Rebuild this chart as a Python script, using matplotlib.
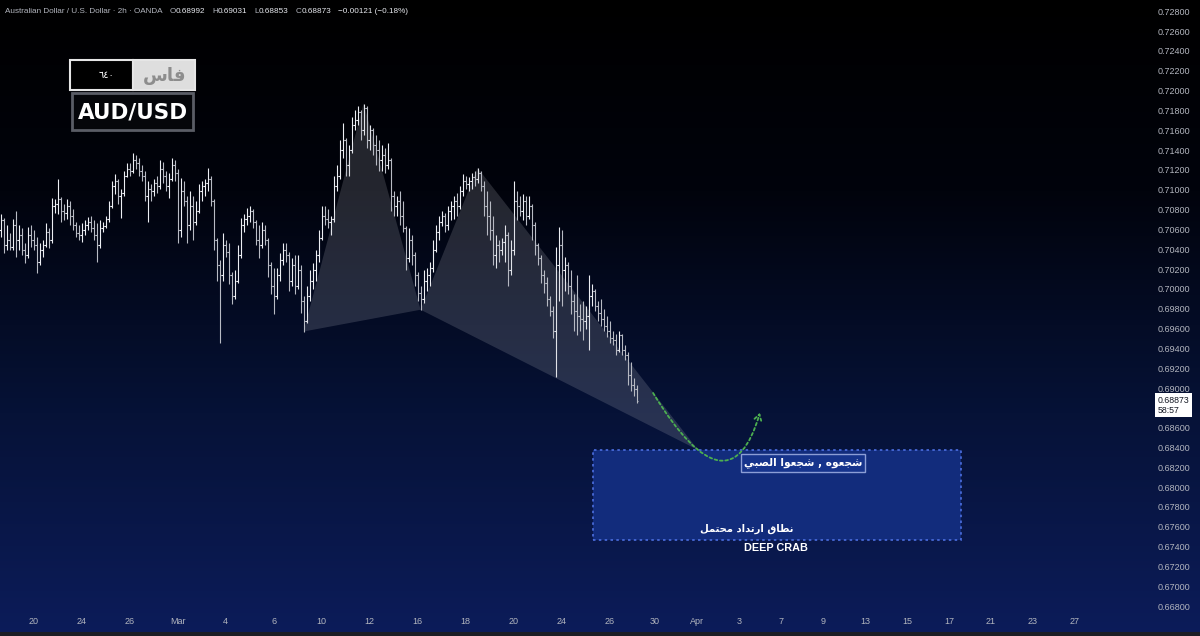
import numpy as np
import pandas as pd
import matplotlib
matplotlib.use('Agg')
import matplotlib.pyplot as plt
from matplotlib.collections import LineCollection
from matplotlib.colors import LinearSegmentedColormap
from matplotlib.patches import Rectangle, Polygon, FancyArrowPatch
from matplotlib.path import Path
from matplotlib import font_manager

# AUD/USD bars (thinned to 8 bars per trading day)
opens = [0.7059, 0.7069, 0.7044, 0.7049, 0.7042, 0.7064, 0.7049, 0.7054, 0.7039, 0.7034,
         0.7054, 0.7049, 0.7044, 0.7027, 0.7039, 0.7044, 0.7057, 0.7049, 0.7084, 0.7086,
         0.7091, 0.7079, 0.7077, 0.7084, 0.7074, 0.7064, 0.7056, 0.7054, 0.7059, 0.7064,
         0.7067, 0.7061, 0.7054, 0.7044, 0.7061, 0.7063, 0.7071, 0.7084, 0.7104, 0.7109,
         0.7094, 0.7097, 0.7114, 0.7121, 0.7119, 0.7130, 0.7127, 0.7119, 0.7114, 0.7094,
         0.7101, 0.7099, 0.7107, 0.7104, 0.7121, 0.7114, 0.7104, 0.7111, 0.7125, 0.7117,
         0.7059, 0.7099, 0.7089, 0.7064, 0.7084, 0.7067, 0.7079, 0.7099, 0.7104, 0.7107,
         0.7111, 0.7089, 0.7049, 0.7024, 0.7014, 0.7044, 0.7037, 0.7014, 0.6993, 0.7008,
         0.7034, 0.7064, 0.7071, 0.7074, 0.7079, 0.7067, 0.7049, 0.7044, 0.7059, 0.7049,
         0.7024, 0.7003, 0.6993, 0.7014, 0.7029, 0.7039, 0.7034, 0.7008, 0.7024, 0.7003,
         0.7019, 0.6988, 0.6968, 0.6993, 0.7008, 0.7019, 0.7034, 0.7051, 0.7074, 0.7071,
         0.7067, 0.7071, 0.7104, 0.7114, 0.7140, 0.7150, 0.7125, 0.7140, 0.7165, 0.7170,
         0.7178, 0.7160, 0.7182, 0.7150, 0.7160, 0.7145, 0.7140, 0.7130, 0.7135, 0.7125,
         0.7130, 0.7094, 0.7084, 0.7089, 0.7074, 0.7061, 0.7031, 0.7049, 0.7034, 0.7014,
         0.6996, 0.6990, 0.7008, 0.7014, 0.7021, 0.7039, 0.7057, 0.7067, 0.7074, 0.7064,
         0.7079, 0.7084, 0.7089, 0.7084, 0.7099, 0.7109, 0.7106, 0.7109, 0.7113, 0.7111,
         0.7117, 0.7104, 0.7084, 0.7074, 0.7059, 0.7034, 0.7044, 0.7039, 0.7047, 0.7054,
         0.7019, 0.7039, 0.7089, 0.7084, 0.7079, 0.7089, 0.7074, 0.7084, 0.7064, 0.7044,
         0.7031, 0.7014, 0.7006, 0.6990, 0.6978, 0.6958, 0.7024, 0.7044, 0.7019, 0.7024,
         0.7003, 0.6988, 0.6978, 0.6973, 0.6970, 0.6968, 0.6973, 0.6993, 0.6998, 0.6983,
         0.6976, 0.6970, 0.6963, 0.6958, 0.6950, 0.6948, 0.6938, 0.6953, 0.6938, 0.6933,
         0.6913, 0.6903, 0.68992]
highs = [0.7076, 0.7072, 0.7064, 0.7056, 0.7071, 0.7079, 0.7064, 0.7061, 0.7046, 0.7062,
         0.7064, 0.7059, 0.7052, 0.7046, 0.7049, 0.7066, 0.7061, 0.7092, 0.7091, 0.7111,
         0.7093, 0.7086, 0.7091, 0.7089, 0.7081, 0.7067, 0.7064, 0.7066, 0.7069, 0.7073,
         0.7074, 0.7069, 0.7066, 0.7069, 0.7067, 0.7074, 0.7089, 0.7109, 0.7116, 0.7111,
         0.7101, 0.7119, 0.7127, 0.7127, 0.7137, 0.7135, 0.7132, 0.7125, 0.7119, 0.7109,
         0.7106, 0.7111, 0.7114, 0.7130, 0.7128, 0.7119, 0.7117, 0.7132, 0.7130, 0.7121,
         0.7112, 0.7109, 0.7094, 0.7099, 0.7094, 0.7089, 0.7106, 0.7109, 0.7111, 0.7122,
         0.7114, 0.7091, 0.7051, 0.7029, 0.7056, 0.7049, 0.7046, 0.7017, 0.7019, 0.7044,
         0.7072, 0.7076, 0.7082, 0.7084, 0.7081, 0.7069, 0.7064, 0.7067, 0.7064, 0.7051,
         0.7027, 0.7021, 0.7021, 0.7036, 0.7046, 0.7046, 0.7037, 0.7031, 0.7034, 0.7034,
         0.7024, 0.6993, 0.7003, 0.7019, 0.7026, 0.7039, 0.7059, 0.7084, 0.7084, 0.7081,
         0.7074, 0.7114, 0.7125, 0.7150, 0.7167, 0.7152, 0.7145, 0.7173, 0.7180, 0.7184,
         0.7180, 0.7187, 0.7184, 0.7165, 0.7162, 0.7155, 0.7150, 0.7145, 0.7142, 0.7147,
         0.7132, 0.7099, 0.7094, 0.7099, 0.7089, 0.7063, 0.7061, 0.7054, 0.7037, 0.7017,
         0.7003, 0.7019, 0.7021, 0.7027, 0.7049, 0.7064, 0.7074, 0.7079, 0.7077, 0.7084,
         0.7089, 0.7094, 0.7097, 0.7104, 0.7116, 0.7114, 0.7113, 0.7117, 0.7119, 0.7122,
         0.7119, 0.7109, 0.7099, 0.7089, 0.7074, 0.7054, 0.7049, 0.7051, 0.7064, 0.7057,
         0.7049, 0.7109, 0.7099, 0.7094, 0.7096, 0.7094, 0.7094, 0.7086, 0.7067, 0.7046,
         0.7034, 0.7019, 0.7012, 0.6993, 0.6983, 0.7042, 0.7062, 0.7059, 0.7032, 0.7027,
         0.7019, 0.6995, 0.7014, 0.6985, 0.6988, 0.6983, 0.7014, 0.7005, 0.7000, 0.6988,
         0.6990, 0.6980, 0.6973, 0.6968, 0.6958, 0.6955, 0.6958, 0.6955, 0.6943, 0.6936,
         0.6926, 0.6910, 0.69031]
lows = [0.7052, 0.7036, 0.7039, 0.7039, 0.7039, 0.7032, 0.7039, 0.7034, 0.7026, 0.7031,
        0.7042, 0.7039, 0.7016, 0.7024, 0.7032, 0.7042, 0.7041, 0.7046, 0.7077, 0.7076,
        0.7067, 0.7069, 0.7071, 0.7064, 0.7059, 0.7052, 0.7049, 0.7047, 0.7054, 0.7059,
        0.7057, 0.7049, 0.7027, 0.7041, 0.7057, 0.7061, 0.7067, 0.7082, 0.7096, 0.7086,
        0.7072, 0.7094, 0.7113, 0.7114, 0.7117, 0.7121, 0.7114, 0.7109, 0.7089, 0.7067,
        0.7089, 0.7094, 0.7097, 0.7101, 0.7107, 0.7099, 0.7092, 0.7109, 0.7109, 0.7046,
        0.7052, 0.7084, 0.7046, 0.7059, 0.7049, 0.7064, 0.7077, 0.7089, 0.7094, 0.7099,
        0.7084, 0.7039, 0.7008, 0.6945, 0.7008, 0.7032, 0.7005, 0.6985, 0.6990, 0.7006,
        0.7031, 0.7057, 0.7064, 0.7067, 0.7061, 0.7044, 0.7031, 0.7041, 0.7044, 0.7012,
        0.6995, 0.6975, 0.6990, 0.7008, 0.7024, 0.7027, 0.6998, 0.7003, 0.6995, 0.7000,
        0.6976, 0.6957, 0.6966, 0.6988, 0.7000, 0.7008, 0.7027, 0.7049, 0.7064, 0.7061,
        0.7054, 0.7067, 0.7099, 0.7111, 0.7132, 0.7114, 0.7114, 0.7137, 0.7160, 0.7165,
        0.7150, 0.7155, 0.7142, 0.7140, 0.7135, 0.7125, 0.7119, 0.7119, 0.7117, 0.7121,
        0.7079, 0.7074, 0.7074, 0.7064, 0.7057, 0.7019, 0.7027, 0.7024, 0.7003, 0.6988,
        0.6979, 0.6986, 0.6998, 0.7003, 0.7017, 0.7037, 0.7049, 0.7063, 0.7057, 0.7059,
        0.7069, 0.7071, 0.7074, 0.7081, 0.7094, 0.7101, 0.7099, 0.7101, 0.7104, 0.7107,
        0.7099, 0.7074, 0.7054, 0.7049, 0.7024, 0.7021, 0.7027, 0.7034, 0.7027, 0.7003,
        0.7014, 0.7034, 0.7069, 0.7074, 0.7069, 0.7064, 0.7071, 0.7049, 0.7034, 0.7024,
        0.7006, 0.6996, 0.6983, 0.6973, 0.6950, 0.6911, 0.6988, 0.6983, 0.6998, 0.6995,
        0.6975, 0.6958, 0.6953, 0.6958, 0.6948, 0.6960, 0.6938, 0.6983, 0.6978, 0.6968,
        0.6963, 0.6958, 0.6951, 0.6945, 0.6943, 0.6933, 0.6936, 0.6933, 0.6928, 0.6903,
        0.6897, 0.6892, 0.68853]
closes = [0.7069, 0.7044, 0.7049, 0.7042, 0.7064, 0.7049, 0.7054, 0.7039, 0.7034, 0.7054,
          0.7049, 0.7044, 0.7027, 0.7039, 0.7044, 0.7057, 0.7049, 0.7084, 0.7086, 0.7091,
          0.7079, 0.7077, 0.7084, 0.7074, 0.7064, 0.7056, 0.7054, 0.7059, 0.7064, 0.7067,
          0.7061, 0.7054, 0.7044, 0.7061, 0.7063, 0.7071, 0.7084, 0.7104, 0.7109, 0.7094,
          0.7097, 0.7114, 0.7121, 0.7119, 0.7130, 0.7127, 0.7119, 0.7114, 0.7094, 0.7101,
          0.7099, 0.7107, 0.7104, 0.7121, 0.7114, 0.7104, 0.7111, 0.7125, 0.7117, 0.7059,
          0.7099, 0.7089, 0.7064, 0.7084, 0.7067, 0.7079, 0.7099, 0.7104, 0.7107, 0.7111,
          0.7089, 0.7049, 0.7024, 0.7014, 0.7044, 0.7037, 0.7014, 0.6993, 0.7008, 0.7034,
          0.7064, 0.7071, 0.7074, 0.7079, 0.7067, 0.7049, 0.7044, 0.7059, 0.7049, 0.7024,
          0.7003, 0.6993, 0.7014, 0.7029, 0.7039, 0.7034, 0.7008, 0.7024, 0.7003, 0.7019,
          0.6988, 0.6968, 0.6993, 0.7008, 0.7019, 0.7034, 0.7051, 0.7074, 0.7071, 0.7067,
          0.7071, 0.7104, 0.7114, 0.7140, 0.7150, 0.7125, 0.7140, 0.7165, 0.7170, 0.7178,
          0.7160, 0.7182, 0.7150, 0.7160, 0.7145, 0.7140, 0.7130, 0.7135, 0.7125, 0.7130,
          0.7094, 0.7084, 0.7089, 0.7074, 0.7061, 0.7031, 0.7049, 0.7034, 0.7014, 0.6996,
          0.6990, 0.7008, 0.7014, 0.7021, 0.7039, 0.7057, 0.7067, 0.7074, 0.7064, 0.7079,
          0.7084, 0.7089, 0.7084, 0.7099, 0.7109, 0.7106, 0.7109, 0.7113, 0.7111, 0.7117,
          0.7104, 0.7084, 0.7074, 0.7059, 0.7034, 0.7044, 0.7039, 0.7047, 0.7054, 0.7019,
          0.7039, 0.7089, 0.7084, 0.7079, 0.7089, 0.7074, 0.7084, 0.7064, 0.7044, 0.7031,
          0.7014, 0.7006, 0.6990, 0.6978, 0.6958, 0.7024, 0.7044, 0.7019, 0.7024, 0.7003,
          0.6988, 0.6978, 0.6973, 0.6970, 0.6968, 0.6973, 0.6993, 0.6998, 0.6983, 0.6976,
          0.6970, 0.6963, 0.6958, 0.6950, 0.6948, 0.6938, 0.6953, 0.6938, 0.6933, 0.6913,
          0.6903, 0.68994, 0.68873]

first_bar = '2026-02-18 15:00'
bars_per_day = 8
future_bars_per_day = 7

tick_dates = ['2026-02-20', '2026-02-24', '2026-02-26', '2026-03-02', '2026-03-04', '2026-03-06',
              '2026-03-10', '2026-03-12', '2026-03-16', '2026-03-18', '2026-03-20', '2026-03-24',
              '2026-03-26', '2026-03-30', '2026-04-01', '2026-04-03', '2026-04-07', '2026-04-09',
              '2026-04-13', '2026-04-15', '2026-04-17', '2026-04-21', '2026-04-23', '2026-04-27']
tick_labels = ['20', '24', '26', 'Mar', '4', '6', '10', '12', '16', '18', '20', '24',
               '26', '30', 'Apr', '3', '7', '9', '13', '15', '17', '21', '23', '27']
price_ticks = np.round(np.arange(0.668, 0.7281, 0.002), 3)

# harmonic pattern X, A, B, C, D  (bar number, price)
pattern_bars = [101, 121, 140, 159, 232.5]
pattern_prices = [0.6957, 0.7187, 0.6979, 0.7122, 0.68375]

# reversal zone (bar numbers, prices)
zone_bars = [197.5, 320.0]
zone_prices = [0.67467, 0.68375]

# projected path (bezier control points, bar number / price)
path_bars = [217.5, 234.8, 246.5, 253.1]
path_prices = [0.6895, 0.6809, 0.6807, 0.6875]

n = len(closes)

# ---- trading calendar -> bar positions for the date ticks
cal = pd.bdate_range('2026-02-16', '2026-05-01')


def day_number(ts):
    ts = pd.Timestamp(ts)
    d = cal.get_loc(ts.normalize())
    return d + (ts - ts.normalize()).total_seconds() / 86400


d_first = day_number(first_bar)
d_last = d_first + (n - 1) / bars_per_day


def bar_pos(ts):
    d = day_number(ts)
    if d <= d_last:
        return (d - d_first) * bars_per_day
    return (n - 1) + (d - d_last) * future_bars_per_day


# ---- minimal arabic shaping (presentation forms, right to left)
FORMS = {
    'ا': (0xFE8D, 0xFE8E, None, None), 'ب': (0xFE8F, 0xFE90, 0xFE91, 0xFE92),
    'ت': (0xFE95, 0xFE96, 0xFE97, 0xFE98), 'ج': (0xFE9D, 0xFE9E, 0xFE9F, 0xFEA0),
    'ح': (0xFEA1, 0xFEA2, 0xFEA3, 0xFEA4), 'د': (0xFEA9, 0xFEAA, None, None),
    'ر': (0xFEAD, 0xFEAE, None, None), 'س': (0xFEB1, 0xFEB2, 0xFEB3, 0xFEB4),
    'ش': (0xFEB5, 0xFEB6, 0xFEB7, 0xFEB8), 'ص': (0xFEB9, 0xFEBA, 0xFEBB, 0xFEBC),
    'ط': (0xFEC1, 0xFEC2, 0xFEC3, 0xFEC4), 'ع': (0xFEC9, 0xFECA, 0xFECB, 0xFECC),
    'ف': (0xFED1, 0xFED2, 0xFED3, 0xFED4), 'ق': (0xFED5, 0xFED6, 0xFED7, 0xFED8),
    'ل': (0xFEDD, 0xFEDE, 0xFEDF, 0xFEE0), 'م': (0xFEE1, 0xFEE2, 0xFEE3, 0xFEE4),
    'ن': (0xFEE5, 0xFEE6, 0xFEE7, 0xFEE8), 'ه': (0xFEE9, 0xFEEA, 0xFEEB, 0xFEEC),
    'و': (0xFEED, 0xFEEE, None, None), 'ي': (0xFEF1, 0xFEF2, 0xFEF3, 0xFEF4),
}


def shape(text):
    out = []
    for i, ch in enumerate(text):
        f = FORMS.get(ch)
        if f is None:
            out.append(ch)
            continue
        prev = FORMS.get(text[i - 1]) if i > 0 else None
        nxt = FORMS.get(text[i + 1]) if i + 1 < len(text) else None
        joined_before = prev is not None and prev[2] is not None
        joins_after = nxt is not None and f[2] is not None
        if joined_before and joins_after:
            code = f[3]
        elif joined_before:
            code = f[1]
        elif joins_after:
            code = f[2]
        else:
            code = f[0]
        out.append(chr(code))
    return ''.join(reversed(out))


names = {f.name for f in font_manager.fontManager.ttflist}
UI = 'Liberation Sans'
NARROW = 'Liberation Sans Narrow' if 'Liberation Sans Narrow' in names else UI
AR = 'DejaVu Sans'

W, H = 1200, 636
fig = plt.figure(figsize=(W / 100, H / 100), dpi=100)

# background gradient
bg = fig.add_axes([0, 0, 1, 1], zorder=-10)
cmap = LinearSegmentedColormap.from_list(
    'tv', [(0, '#000000'), (0.3, '#01030c'), (0.65, '#061237'), (1, '#0c1c5a')])
bg.imshow(np.linspace(0, 1, 256).reshape(-1, 1), aspect='auto', cmap=cmap, extent=[0, 1, 0, 1])
bg.axis('off')
fig.add_artist(Rectangle((0, 0), 1, 4 / H, transform=fig.transFigure, color='#1b1d24', lw=0))

ax = fig.add_axes([0, 1 - 610 / H, 1148 / W, 610 / H])
ax.patch.set_alpha(0)
ax.set_xlim(-0.2, -0.2 + 1148 / 3.0)
ax.set_ylim(0.66761, 0.72914)
for s in ax.spines.values():
    s.set_visible(False)

# OHLC bars
x = np.arange(n)
o, h, l, c = map(np.array, (opens, highs, lows, closes))
segs, cols = [], []
for i in range(n):
    col = '#eceef3' if c[i] >= o[i] else '#b8bbc4'
    segs += [[(x[i], l[i]), (x[i], h[i])],
             [(x[i] - 0.45, o[i]), (x[i], o[i])],
             [(x[i], c[i]), (x[i] + 0.45, c[i])]]
    cols += [col] * 3
ax.add_collection(LineCollection(segs, colors=cols, linewidths=0.8, zorder=3))

# XAB and BCD triangles
px, py = pattern_bars, pattern_prices
ax.add_patch(Polygon(list(zip(px[0:3], py[0:3])), closed=True, fc='#b2b5be', alpha=0.2, lw=0, zorder=4))
ax.add_patch(Polygon(list(zip(px[2:5], py[2:5])), closed=True, fc='#b2b5be', alpha=0.2, lw=0, zorder=4))

# reversal zone
ax.add_patch(Rectangle((zone_bars[0], zone_prices[0]), zone_bars[1] - zone_bars[0],
                       zone_prices[1] - zone_prices[0], fc='#122c7c', ec='#4c6fe0',
                       lw=1.2, ls=(0, (1.5, 2)), zorder=2))

# projected path
curve = Path(list(zip(path_bars, path_prices)), [Path.MOVETO, Path.CURVE4, Path.CURVE4, Path.CURVE4])
ax.add_patch(FancyArrowPatch(path=curve, arrowstyle='->,head_length=4,head_width=2.5',
                             color='#4caf50', lw=1.3, ls=(0, (1.5, 1.5)), zorder=6))

ax.text(267.5, 0.68244, shape('شجعوه , شجعوا الصبي'), color='white', fontsize=7.6,
        fontweight='bold', family=AR, ha='center', va='center', zorder=7,
        bbox=dict(boxstyle='square,pad=0.3', fc='#16348c', ec='#8c9ed6', lw=1))
ax.text(248.8, 0.67578, shape('نطاق ارتداد محتمل'), color='white', fontsize=7.2,
        fontweight='bold', family=AR, ha='center', va='center', zorder=7)
ax.text(258.5, 0.67386, 'DEEP CRAB', color='white', fontsize=7.8, fontweight='bold',
        family=NARROW, ha='center', va='center', zorder=7)

# axes ticks
ax.set_xticks([bar_pos(d) for d in tick_dates])
ax.set_xticklabels(tick_labels)
shown = [p for p in price_ticks if abs(p - 0.688) > 1e-6]
ax.set_yticks(shown)
ax.set_yticklabels([f'{p:.5f}' for p in shown])
ax.yaxis.tick_right()
ax.tick_params(axis='both', length=0, labelsize=6.5, labelcolor='#b2b5be')
ax.tick_params(axis='x', pad=5)
ax.tick_params(axis='y', pad=7)
for t in ax.get_xticklabels() + ax.get_yticklabels():
    t.set_family(UI)

# last price label
ax.annotate(f'{closes[-1]:.5f}\n58:57', xy=(1158 / W, closes[-1]),
            xycoords=('figure fraction', 'data'), xytext=(0, -3.3), textcoords='offset points',
            ha='left', va='center', fontsize=6.3, family=UI, color='#131722', linespacing=1.15,
            annotation_clip=False,
            bbox=dict(boxstyle='square,pad=0.3', fc='white', ec='none'))

# header line
chg = closes[-1] - closes[-2]
parts = [('Australian Dollar / U.S. Dollar · 2h · OANDA', '#b2b5be', 0),
         ('O', '#b2b5be', 5), (f'{opens[-1]:.5f}', '#e6e8ee', 0),
         ('H', '#b2b5be', 5), (f'{highs[-1]:.5f}', '#e6e8ee', 0),
         ('L', '#b2b5be', 5), (f'{lows[-1]:.5f}', '#e6e8ee', 0),
         ('C', '#b2b5be', 5), (f'{closes[-1]:.5f}', '#e6e8ee', 0),
         (f'{chg:+.5f} ({chg / closes[-2] * 100:+.2f}%)'.replace('-', '\u2212'), '#e6e8ee', 5)]
prev = fig.text(5 / W, 1 - 13 / H, parts[0][0], color=parts[0][1], fontsize=5.9, family=UI)
for s, col, gap in parts[1:]:
    prev = ax.annotate(s, xy=(1, 0), xycoords=prev, xytext=(gap, 0), textcoords='offset points',
                       va='bottom', ha='left', color=col, fontsize=5.9, family=UI,
                       annotation_clip=False)


# logo
def fbox(x0, y0, x1, y1, **kw):
    fig.add_artist(Rectangle((x0 / W, 1 - y1 / H), (x1 - x0) / W, (y1 - y0) / H,
                             transform=fig.transFigure, **kw))


fbox(70, 60, 133, 90, fc='#000000', ec='#e6e6e6', lw=1.5)
fbox(133, 60, 195, 90, fc='#dedede', ec='#e6e6e6', lw=1.5)
fbox(72, 93, 193, 130, fc='#05060a', ec='#5a5d66', lw=2)
fig.text(107 / W, 1 - 75 / H, '٦٤٠', color='white', fontsize=7, family=AR, ha='center', va='center')
fig.text(165 / W, 1 - 76 / H, shape('فاس'), color='#8d8d8d', fontsize=13, fontweight='bold',
         family=AR, ha='center', va='center')
fig.text(133 / W, 1 - 112 / H, 'AUD/USD', color='white', fontsize=15.5, fontweight='bold',
         family='DejaVu Sans', ha='center', va='center')

fig.savefig('out.png', dpi=100, facecolor='black')
